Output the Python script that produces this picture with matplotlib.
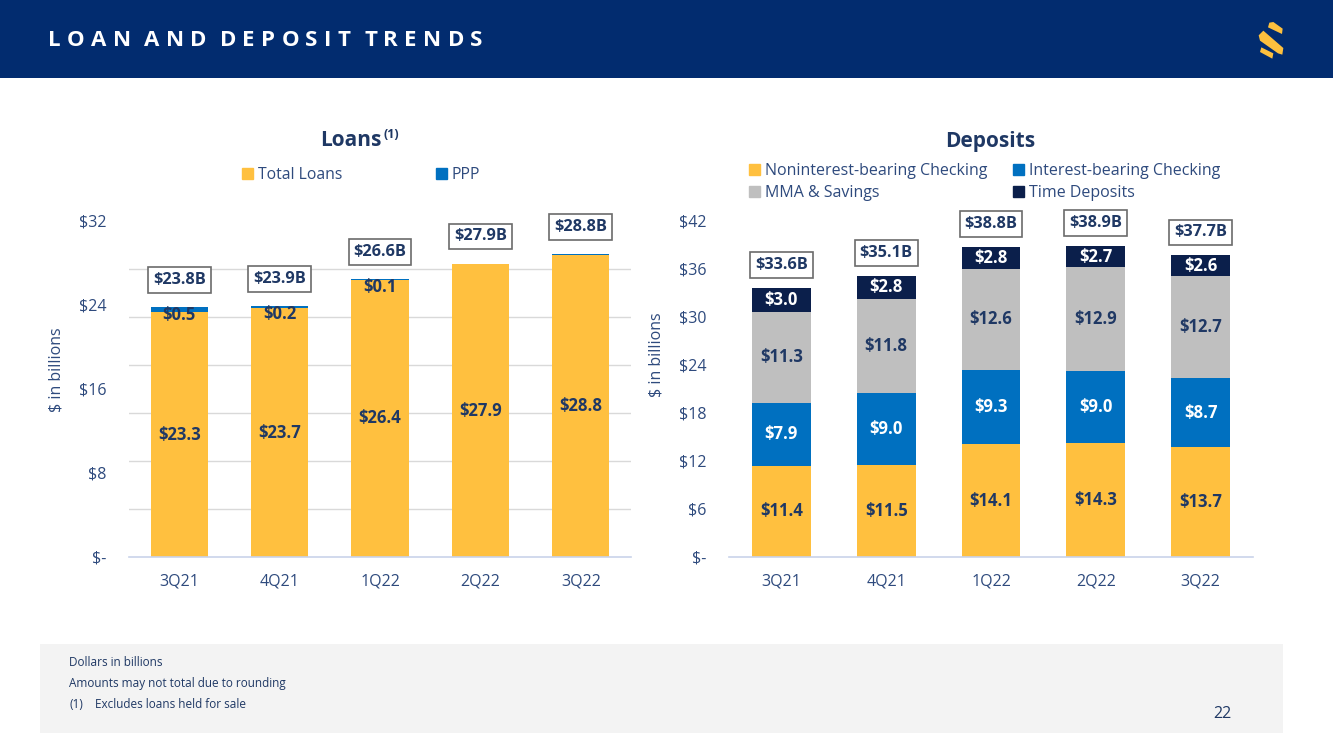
import matplotlib
matplotlib.use("Agg")
import matplotlib.pyplot as plt
from matplotlib.patches import Rectangle, Polygon, Patch
import numpy as np

plt.rcParams['font.family'] = ['Open Sans', 'DejaVu Sans']

# ---------------- data ----------------
quarters = ["3Q21", "4Q21", "1Q22", "2Q22", "3Q22"]

total_loans = [23.3, 23.7, 26.4, 27.9, 28.8]
ppp = [0.5, 0.2, 0.1, 0.05, 0.04]
ppp_labels = ["$0.5", "$0.2", "$0.1", "", ""]
loan_totals = [23.8, 23.9, 26.6, 27.9, 28.8]

noninterest = [11.4, 11.5, 14.1, 14.3, 13.7]
interest_bearing = [7.9, 9.0, 9.3, 9.0, 8.7]
mma_savings = [11.3, 11.8, 12.6, 12.9, 12.7]
time_deposits = [3.0, 2.8, 2.8, 2.7, 2.6]
deposit_totals = [33.6, 35.1, 38.8, 38.9, 37.7]

loan_yticks = [0, 8, 16, 24, 32]
deposit_yticks = [0, 6, 12, 18, 24, 30, 36, 42]

# ---------------- style ----------------
YELLOW = "#FFC03F"
BLUE = "#0070C0"
GRAY = "#BFBFBF"
NAVY_BAR = "#0B1F4B"
HEADER = "#022C6F"
TXT = "#1F3864"
TICK = "#2E4A7D"
GRID = "#D9D9D9"
BASE = "#C9D3EA"

W, H = 1333, 749
fig = plt.figure(figsize=(W / 100, H / 100), dpi=100)
fig.patch.set_facecolor("white")


def fx(x):
    return x / W


def fy(y):
    return 1 - y / H


# header band
fig.patches.append(Rectangle((0, fy(78)), 1, 78 / H, transform=fig.transFigure,
                             facecolor=HEADER, edgecolor="none", zorder=0))

renderer = fig.canvas.get_renderer()
title = "LOAN AND DEPOSIT TRENDS"
x = 48
for ch in title:
    if ch == " ":
        x += 7
        continue
    t = fig.text(fx(x), fy(41), ch, color="white", fontsize=16, fontweight="bold",
                 ha="left", va="center")
    x += t.get_window_extent(renderer).width + 6.3

# logo (stylised S)
def logo_poly(pts):
    conv = [(fx(1240 + px / 3), fy(10 + py / 3)) for px, py in pts]
    fig.patches.append(Polygon(conv, closed=True, transform=fig.transFigure,
                               facecolor="#FDC03E", edgecolor="none"))

logo_poly([(88, 38), (100, 36), (128, 56), (126, 72), (84, 52)])
logo_poly([(56, 76), (70, 62), (130, 114), (127, 134), (114, 130), (60, 92)])
logo_poly([(64, 112), (100, 130), (97, 146), (60, 126)])

# footnote panel
fig.patches.append(Rectangle((fx(40), fy(733)), (1283 - 40) / W, (733 - 644) / H,
                             transform=fig.transFigure, facecolor="#F3F3F3",
                             edgecolor="none", zorder=0))
fig.text(fx(69), fy(663), "Dollars in billions", fontsize=8.5, color=TXT, va="center")
fig.text(fx(69), fy(684), "Amounts may not total due to rounding", fontsize=8.5, color=TXT, va="center")
fig.text(fx(69), fy(704), "(1)", fontsize=8.5, color=TXT, va="center")
fig.text(fx(95), fy(704), "Excludes loans held for sale", fontsize=8.5, color=TXT, va="center")
fig.text(fx(1231), fy(714), "22", fontsize=11.5, color=TXT, va="center", ha="right")


def money_fmt(v):
    return "$-" if v == 0 else f"${v:g}"


def style_axes(ax, ymax, ticks, grid_ticks):
    ax.set_xlim(-0.5, len(quarters) - 0.5)
    ax.set_ylim(0, ymax)
    ax.set_yticks(ticks)
    ax.set_yticklabels([money_fmt(v) for v in ticks])
    ax.set_yticks(grid_ticks, minor=True)
    ax.yaxis.grid(True, which="minor", color=GRID, linewidth=1)
    ax.yaxis.grid(False, which="major")
    ax.set_axisbelow(True)
    ax.set_xticks(range(len(quarters)))
    ax.set_xticklabels(quarters)
    for s in ["top", "right", "left"]:
        ax.spines[s].set_visible(False)
    ax.spines["bottom"].set_color(BASE)
    ax.spines["bottom"].set_linewidth(1.2)
    ax.tick_params(axis="y", which="both", length=0, pad=16, labelsize=11.5, labelcolor=TICK)
    ax.tick_params(axis="x", length=0, pad=12, labelsize=11.5, labelcolor=TICK)


def total_box(ax, xi, ytop, text, off):
    ax.annotate(text, (xi, ytop), xytext=(0, off), textcoords="offset points",
                ha="center", va="center", fontsize=11.8, fontweight="bold", color=TXT,
                bbox=dict(boxstyle="square,pad=0.3", facecolor="white",
                          edgecolor="#6B6B6B", linewidth=1.2))


xs = np.arange(len(quarters))
BW = 0.57

# ---------------- Loans ----------------
axL = fig.add_axes([fx(129), fy(557), (631 - 129) / W, (557 - 221) / H])
style_axes(axL, 32, loan_yticks, np.linspace(0, 32, 8))
axL.bar(xs, total_loans, width=BW, color=YELLOW, label="Total Loans", zorder=2)
axL.bar(xs, ppp, width=BW, bottom=total_loans, color=BLUE, label="PPP", zorder=2)
for i in range(len(quarters)):
    axL.text(xs[i], total_loans[i] / 2, f"${total_loans[i]:.1f}", ha="center", va="center",
             fontsize=12, fontweight="bold", color=TXT, zorder=3)
    top = total_loans[i] + ppp[i]
    if ppp_labels[i]:
        axL.annotate(ppp_labels[i], (xs[i], top), xytext=(0, -6), textcoords="offset points",
                     ha="center", va="center", fontsize=12, fontweight="bold", color=TXT, zorder=3)
    total_box(axL, xs[i], top, f"${loan_totals[i]:.1f}B", 19.5)

fig.text(fx(57), fy(370), "$ in billions", rotation=90, fontsize=11.5, color=TICK,
         ha="center", va="center")
fig.text(fx(382), fy(140), "Loans", fontsize=15, fontweight="bold", color=TXT,
         ha="right", va="center")
fig.text(fx(383), fy(134), "(1)", fontsize=9, fontweight="bold", color=TXT,
         ha="left", va="center")
axL.legend(handles=[Patch(color=YELLOW, label="Total Loans"), Patch(color=BLUE, label="PPP")],
           ncol=2, loc="center left", bbox_to_anchor=(fx(242), fy(175)),
           bbox_transform=fig.transFigure, frameon=False, fontsize=11.3,
           handlelength=0.7, handleheight=0.7, handletextpad=0.3, columnspacing=6.0,
           borderpad=0, borderaxespad=0, labelcolor=TICK)

# ---------------- Deposits ----------------
axD = fig.add_axes([fx(729), fy(557), (1253 - 729) / W, (557 - 221) / H])
style_axes(axD, 42, deposit_yticks, deposit_yticks)
series = [
    (noninterest, YELLOW, "Noninterest-bearing Checking", TXT),
    (interest_bearing, BLUE, "Interest-bearing Checking", "white"),
    (mma_savings, GRAY, "MMA & Savings", TXT),
    (time_deposits, NAVY_BAR, "Time Deposits", "white"),
]
bottom = np.zeros(len(quarters))
for vals, col, lab, tc in series:
    vals = np.array(vals)
    axD.bar(xs, vals, width=0.56, bottom=bottom, color=col, label=lab, zorder=2)
    for i in range(len(quarters)):
        axD.text(xs[i], bottom[i] + vals[i] / 2, f"${vals[i]:.1f}", ha="center", va="center",
                 fontsize=12, fontweight="bold", color=tc, zorder=3)
    bottom = bottom + vals
for i in range(len(quarters)):
    total_box(axD, xs[i], bottom[i], f"${deposit_totals[i]:.1f}B", 16.5)

fig.text(fx(657), fy(355), "$ in billions", rotation=90, fontsize=11.5, color=TICK,
         ha="center", va="center")
fig.text(fx(990), fy(141), "Deposits", fontsize=15, fontweight="bold", color=TXT,
         ha="center", va="center")
handles = [Patch(color=c, label=l) for _, c, l, _ in series]
# order for 2 columns, row-wise: Nonint, Interest / MMA, Time
order = [handles[0], handles[2], handles[1], handles[3]]
axD.legend(handles=order, ncol=2, loc="center left", bbox_to_anchor=(fx(749), fy(182)),
           bbox_transform=fig.transFigure, frameon=False, fontsize=11.5,
           handlelength=0.7, handleheight=0.7, handletextpad=0.3, columnspacing=1.6,
           labelspacing=0.35, borderpad=0, borderaxespad=0, labelcolor=TICK)

fig.savefig("out.png", dpi=100)
